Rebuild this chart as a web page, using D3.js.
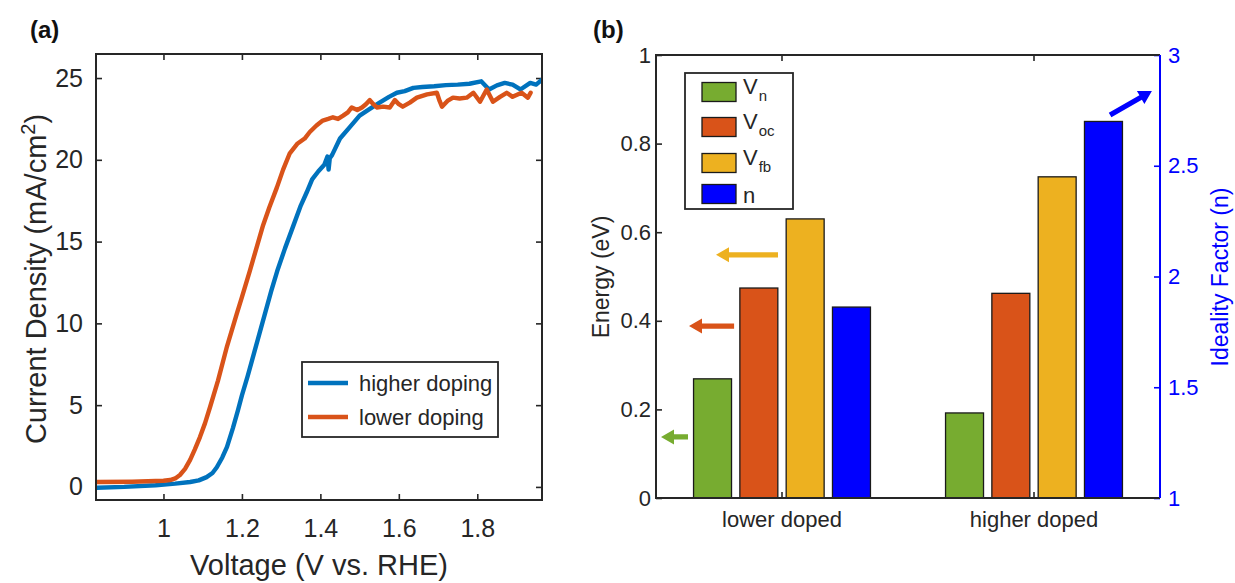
<!DOCTYPE html>
<html><head><meta charset="utf-8">
<script src="https://cdn.jsdelivr.net/npm/d3@7"></script>
<style>body{margin:0;background:#fff} svg{display:block}</style>
</head><body>
<svg id="c" width="1235" height="583"></svg>
<script>
// ---------- Panel (a) data ----------
const higherV = [0.83,0.90,0.98,1.03,1.068,1.09,1.11,1.125,1.136,1.15,1.162,1.177,1.19,1.2,1.215,1.23,1.245,1.26,1.275,1.29,1.31,1.33,1.35,1.365,1.379,1.395,1.41,1.418,1.421,1.424,1.43,1.45,1.475,1.5,1.525,1.551,1.575,1.595,1.615,1.637,1.66,1.69,1.72,1.75,1.78,1.81,1.83,1.85,1.87,1.89,1.91,1.935,1.95,1.965];
const higherJ = [-0.05,0.0,0.1,0.2,0.3,0.4,0.6,0.85,1.2,1.8,2.45,3.6,4.7,5.6,6.8,8.1,9.4,10.7,12.0,13.2,14.6,15.9,17.2,18.0,18.8,19.3,19.7,20.2,19.4,20.1,20.3,21.3,22.0,22.7,23.1,23.5,23.85,24.1,24.2,24.4,24.45,24.5,24.57,24.6,24.65,24.8,24.3,24.55,24.7,24.6,24.3,24.7,24.6,24.9];
const lowerV = [0.83,0.92,1.0,1.017,1.03,1.042,1.055,1.068,1.08,1.093,1.106,1.119,1.139,1.162,1.187,1.2,1.22,1.237,1.254,1.27,1.289,1.305,1.322,1.342,1.36,1.373,1.39,1.406,1.42,1.432,1.445,1.458,1.47,1.48,1.494,1.506,1.516,1.526,1.535,1.544,1.56,1.577,1.59,1.6,1.61,1.628,1.646,1.672,1.697,1.704,1.71,1.724,1.738,1.755,1.773,1.79,1.807,1.824,1.84,1.858,1.875,1.89,1.913,1.929,1.936];
const lowerJ = [0.3,0.32,0.38,0.42,0.52,0.73,1.1,1.65,2.3,3.05,3.9,4.9,6.5,8.6,10.6,11.6,13.2,14.6,16.0,17.1,18.3,19.4,20.4,21.0,21.3,21.7,22.1,22.4,22.5,22.6,22.5,22.7,22.9,23.2,23.05,23.2,23.4,23.65,23.4,23.2,23.25,23.2,23.65,23.4,23.25,23.5,23.8,24.0,24.1,23.6,23.25,23.6,23.8,23.75,23.8,24.1,23.55,24.3,23.55,23.85,24.1,23.85,24.1,23.8,24.1];
const xTicksA = [1,1.2,1.4,1.6,1.8];
const xTickLabelsA = ['1','1.2','1.4','1.6','1.8'];
const yTicksA = [0,5,10,15,20,25];
const yTickLabelsA = ['0','5','10','15','20','25'];
const seriesA = ['higher doping','lower doping'];

// ---------- Panel (b) data ----------
const groups = ['lower doped','higher doped'];
const seriesB = ['Vn','Voc','Vfb','n'];
const seriesSub = [['V','n'],['V','oc'],['V','fb'],['n','']];
const Vn  = [0.269,0.192];
const Voc = [0.474,0.462];
const Vfb = [0.630,0.725];
const nIdeal = [1.862,2.700];
const yTicksBL = [0,0.2,0.4,0.6,0.8,1];
const yTickLabelsBL = ['0','0.2','0.4','0.6','0.8','1'];
const yTicksBR = [1,1.5,2,2.5,3];
const yTickLabelsBR = ['1','1.5','2','2.5','3'];
// arrows: [series, tailX, tailY, headX, headY] in data units (x: category index, y: energy or n)
const arrows = [
  ['Vfb',0.984,0.549,0.738,0.549],
  ['Voc',0.810,0.388,0.631,0.388],
  ['Vn',0.627,0.138,0.520,0.138],
  ['n',2.302,2.729,2.468,2.837]
];

const FONT = '"Liberation Sans", Arial, Helvetica, sans-serif';
const ink = '#262626';
const cBlue = '#0072BD', cOrange = '#D95319';
const colB = {Vn:'#77AC30', Voc:'#D95319', Vfb:'#EDB120', n:'#0000FF'};

const svg = d3.select('#c').attr('font-family', FONT);
const defs = svg.append('defs');

// ================= Panel (a) =================
const A = {l:96, r:542, t:54, b:500};
const xA = d3.scaleLinear().domain([0.828,1.965]).range([A.l,A.r]);
const yA = d3.scaleLinear().domain([-0.8,26.47]).range([A.b,A.t]);
defs.append('clipPath').attr('id','clipA').append('rect')
  .attr('x',A.l).attr('y',A.t).attr('width',A.r-A.l).attr('height',A.b-A.t);

function styleAxis(g, size, color){
  g.attr('font-family', FONT).attr('font-size', size).attr('color', color);
  g.select('.domain').remove();
  g.selectAll('.tick line').attr('stroke-width',1.6);
}
const gA = svg.append('g');
gA.append('g').attr('transform',`translate(0,${A.b})`)
  .call(d3.axisBottom(xA).tickValues(xTicksA).tickSize(-6).tickSizeOuter(0).tickPadding(19).tickFormat((d,i)=>xTickLabelsA[i]))
  .call(g=>styleAxis(g,25,ink));
gA.append('g').attr('transform',`translate(0,${A.t})`)
  .call(d3.axisTop(xA).tickValues(xTicksA).tickSize(-6).tickSizeOuter(0).tickFormat(''))
  .call(g=>styleAxis(g,25,ink));
gA.append('g').attr('transform',`translate(${A.l},0)`)
  .call(d3.axisLeft(yA).tickValues(yTicksA).tickSize(-6).tickSizeOuter(0).tickPadding(13).tickFormat((d,i)=>yTickLabelsA[i]))
  .call(g=>styleAxis(g,25,ink));
gA.append('g').attr('transform',`translate(${A.r},0)`)
  .call(d3.axisRight(yA).tickValues(yTicksA).tickSize(-6).tickSizeOuter(0).tickFormat(''))
  .call(g=>styleAxis(g,25,ink));

const lineA = d3.line().x(d=>xA(d[0])).y(d=>yA(d[1]));
const dataA = [d3.zip(higherV,higherJ), d3.zip(lowerV,lowerJ)];
const colA = [cBlue,cOrange];
gA.append('g').attr('clip-path','url(#clipA)').selectAll('path').data(dataA).join('path')
  .attr('d',lineA).attr('fill','none').attr('stroke',(d,i)=>colA[i])
  .attr('stroke-width',4.4).attr('stroke-linejoin','round').attr('stroke-linecap','round');

gA.append('rect').attr('x',A.l).attr('y',A.t).attr('width',A.r-A.l).attr('height',A.b-A.t)
  .attr('fill','none').attr('stroke',ink).attr('stroke-width',2);

// legend (a)
const legA = gA.append('g').attr('transform','translate(302,362)');
legA.append('rect').attr('width',196).attr('height',75).attr('fill','#fff').attr('stroke',ink).attr('stroke-width',1.8);
seriesA.forEach((s,i)=>{
  const y = 21 + i*34;
  legA.append('line').attr('x1',6).attr('x2',46).attr('y1',y).attr('y2',y).attr('stroke',colA[i]).attr('stroke-width',4.5);
  legA.append('text').attr('x',57).attr('y',y+8).attr('font-size',22).attr('fill',ink).text(s);
});

// labels (a)
gA.append('text').attr('x',(A.l+A.r)/2).attr('y',575).attr('text-anchor','middle')
  .attr('font-size',29).attr('fill',ink).text('Voltage (V vs. RHE)');
const yl = gA.append('text').attr('transform','translate(46,279) rotate(-90)').attr('text-anchor','middle')
  .attr('font-size',29).attr('fill',ink);
yl.append('tspan').text('Current Density (mA/cm');
yl.append('tspan').attr('font-size',20).attr('dy','-0.55em').text('2');
yl.append('tspan').attr('dy','0.38em').text(')');
svg.append('text').attr('x',30).attr('y',38).attr('font-size',24).attr('font-weight','bold').attr('fill','#111').text('(a)');

// ================= Panel (b) =================
const B = {l:656, r:1160, t:55, b:498};
const x0 = d3.scaleBand().domain(groups).range([B.l,B.r]).paddingInner(0.298).paddingOuter(0.149);
const x1 = d3.scaleBand().domain(seriesB).range([0,x0.bandwidth()]).paddingInner(0.18).paddingOuter(0);
const xB = d3.scaleLinear().domain([0.5,2.5]).range([B.l,B.r]);
const yL = d3.scaleLinear().domain([0,1]).range([B.b,B.t]);
const yR = d3.scaleLinear().domain([1,3]).range([B.b,B.t]);
const scaleFor = s => s==='n' ? yR : yL;

const gB = svg.append('g');
gB.append('g').attr('transform',`translate(0,${B.b})`)
  .call(d3.axisBottom(x0).tickSize(-6).tickSizeOuter(0).tickPadding(13))
  .call(g=>styleAxis(g,22,ink));
gB.append('g').attr('transform',`translate(0,${B.t})`)
  .call(d3.axisTop(x0).tickSize(-6).tickSizeOuter(0).tickFormat(''))
  .call(g=>styleAxis(g,22,ink));
gB.append('g').attr('transform',`translate(${B.l},0)`)
  .call(d3.axisLeft(yL).tickValues(yTicksBL).tickSize(-6).tickSizeOuter(0).tickPadding(5).tickFormat((d,i)=>yTickLabelsBL[i]))
  .call(g=>styleAxis(g,22,ink));
gB.append('g').attr('transform',`translate(${B.r},0)`)
  .call(d3.axisRight(yR).tickValues(yTicksBR).tickSize(-6).tickSizeOuter(0).tickPadding(8).tickFormat((d,i)=>yTickLabelsBR[i]))
  .call(g=>styleAxis(g,22,'#0000FF'));

const valsB = {Vn, Voc, Vfb, n:nIdeal};
const barData = [];
groups.forEach((gname,gi)=>seriesB.forEach(s=>barData.push({g:gname,s,v:valsB[s][gi]})));
gB.append('g').selectAll('rect').data(barData).join('rect')
  .attr('x',d=>x0(d.g)+x1(d.s)).attr('width',x1.bandwidth())
  .attr('y',d=>scaleFor(d.s)(d.v)).attr('height',d=>B.b-scaleFor(d.s)(d.v))
  .attr('fill',d=>colB[d.s]).attr('stroke','#1a1a1a').attr('stroke-width',1.3);

// border (b)
gB.append('path').attr('d',`M${B.r},${B.t}H${B.l}V${B.b}H${B.r}`).attr('fill','none').attr('stroke',ink).attr('stroke-width',2);
gB.append('line').attr('x1',B.r).attr('x2',B.r).attr('y1',B.t).attr('y2',B.b).attr('stroke','#0000FF').attr('stroke-width',2);

// arrows
function arrowPath(x1p,y1p,x2p,y2p){
  const dx=x2p-x1p, dy=y2p-y1p, L=Math.hypot(dx,dy), ux=dx/L, uy=dy/L, nx=-uy, ny=ux;
  const w=2.6, hl=13, hw=7.5;
  const bx=x2p-ux*hl, by=y2p-uy*hl;
  const p=[[x1p+nx*w,y1p+ny*w],[bx+nx*w,by+ny*w],[bx+nx*hw,by+ny*hw],[x2p,y2p],[bx-nx*hw,by-ny*hw],[bx-nx*w,by-ny*w],[x1p-nx*w,y1p-ny*w]];
  return 'M'+p.map(q=>q[0].toFixed(1)+','+q[1].toFixed(1)).join('L')+'Z';
}
gB.append('g').selectAll('path').data(arrows).join('path')
  .attr('d',a=>{const ys=scaleFor(a[0]);return arrowPath(xB(a[1]),ys(a[2]),xB(a[3]),ys(a[4]));})
  .attr('fill',a=>colB[a[0]]);

// legend (b)
const legB = gB.append('g').attr('transform','translate(685,73)');
legB.append('rect').attr('width',108).attr('height',136).attr('fill','#fff').attr('stroke',ink).attr('stroke-width',1.8);
const rowY = [19,54,90,121];
seriesSub.forEach((lab,i)=>{
  const s = seriesB[i];
  legB.append('rect').attr('x',17).attr('y',rowY[i]-9.5).attr('width',34).attr('height',19)
    .attr('fill',colB[s]).attr('stroke','#1a1a1a').attr('stroke-width',1.3);
  const t = legB.append('text').attr('x',58).attr('y',rowY[i]+(lab[1]?2:9)).attr('font-size',22).attr('fill',ink);
  t.append('tspan').text(lab[0]);
  if(lab[1]) t.append('tspan').attr('font-size',15).attr('dy','0.45em').attr('dx','1').text(lab[1]);
});

// labels (b)
gB.append('text').attr('transform','translate(609,277) rotate(-90)').attr('text-anchor','middle')
  .attr('font-size',23).attr('fill',ink).text('Energy (eV)');
gB.append('text').attr('transform','translate(1228,277) rotate(-90)').attr('text-anchor','middle')
  .attr('font-size',23).attr('fill','#0000FF').text('Ideality Factor (n)');
svg.append('text').attr('x',593).attr('y',38).attr('font-size',24).attr('font-weight','bold').attr('fill','#111').text('(b)');
</script>
</body></html>
